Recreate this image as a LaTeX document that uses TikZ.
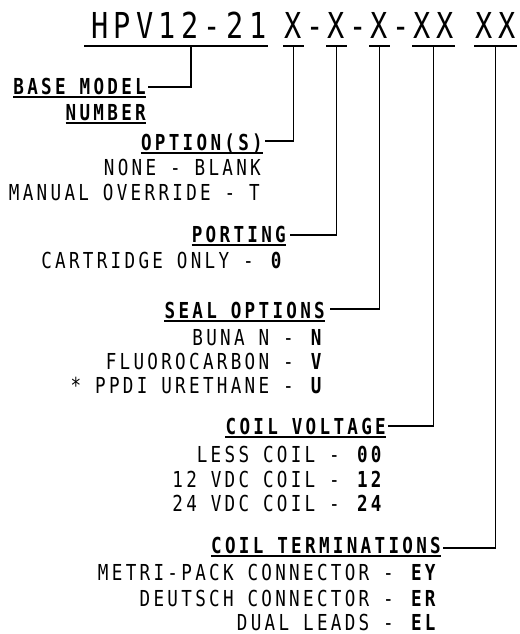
\documentclass[tikz,border=0pt]{standalone}
\usepackage{fontspec}
\newfontfamily\cadfont[FakeStretch=0.8,LetterSpace=15]{DejaVu Sans Mono}
\newfontfamily\ttlfont[FakeStretch=0.8,LetterSpace=15]{DejaVu Sans Mono}
\begin{document}
\begin{tikzpicture}[x=1pt,y=-1pt,
  item/.style={font=\cadfont\fontsize{22}{25}\selectfont, inner sep=0pt, anchor=base east},
  hdr/.style={font=\cadfont\bfseries\fontsize{22}{25}\selectfont, inner sep=0pt, anchor=base east},
  ttl/.style={font=\ttlfont\fontsize{35.7}{40}\selectfont, inner sep=0pt, anchor=base west},
  ln/.style={line width=1.1pt, black}]
\useasboundingbox (0,0) rectangle (519,634);
% title segments (advance 21.5pt per character)
\node[ttl] (base) at (91,38) {HPV12-21};
\node[ttl] (xa) at (284.5,38) {X};
\node[ttl] (da) at (306,38) {-};
\node[ttl] (xb) at (327.5,38) {X};
\node[ttl] (db) at (349,38) {-};
\node[ttl] (xc) at (370.5,38) {X};
\node[ttl] (dc) at (392,38) {-};
\node[ttl] (xd) at (413.5,38) {XX};
\node[ttl] (xe) at (475.5,38) {XX};
% underlines
\draw[ln] ([xshift=-7pt,yshift=-8pt]base.base west) -- ([xshift=1.5pt,yshift=-8pt]base.base east);
\foreach \n in {xa,xb,xc,xd,xe}
  \draw[ln] ([xshift=-1.5pt,yshift=-8pt]\n.base west) -- ([xshift=1.5pt,yshift=-8pt]\n.base east);
% headers
\node[hdr] (bm) at (146,94) {BASE MODEL};
\node[hdr] (num) at (146,120) {NUMBER};
\node[hdr] (opt) at (263,150) {OPTION(S)};
\node[hdr] (port) at (286,242) {PORTING};
\node[hdr] (seal) at (325,318) {SEAL OPTIONS};
\node[hdr] (cv) at (386,434) {COIL VOLTAGE};
\node[hdr] (ct) at (441,553) {COIL TERMINATIONS};
\foreach \n in {bm,num,opt,port,seal,cv,ct}
  \draw[line width=1.2pt] ([yshift=-3pt]\n.base west) -- ([yshift=-3pt]\n.base east);
% items
\node[item] (o1) at (261,175) {NONE - BLANK};
\node[item] (o2) at (260,200) {MANUAL OVERRIDE - T};
\node[item] (p1) at (285,268) {CARTRIDGE ONLY - \textbf{0}};
\node[item] (s1) at (325,345) {BUNA N - \textbf{N}};
\node[item] (s2) at (325,369) {FLUOROCARBON - \textbf{V}};
\node[item] (s3) at (325,393) {* PPDI URETHANE - \textbf{U}};
\node[item] (v1) at (385,462) {LESS COIL - \textbf{00}};
\node[item] (v2) at (385,487) {12 VDC COIL - \textbf{12}};
\node[item] (v3) at (385,511) {24 VDC COIL - \textbf{24}};
\node[item] (t1) at (439,580) {METRI-PACK CONNECTOR - \textbf{EY}};
\node[item] (t2) at (439,606) {DEUTSCH CONNECTOR - \textbf{ER}};
\node[item] (t3) at (439,630) {DUAL LEADS - \textbf{EL}};
% connectors
\draw[ln] ([xshift=2pt,yshift=7pt]bm.base east) -| ([xshift=100pt,yshift=-8pt]base.base west);
\draw[ln] ([xshift=2pt,yshift=9pt]opt.base east) -| ([yshift=-8pt]xa.base);
\draw[ln] ([xshift=4pt,yshift=7pt]port.base east) -| ([yshift=-8pt]xb.base);
\draw[ln] ([xshift=5pt,yshift=9pt]seal.base east) -| ([yshift=-8pt]xc.base);
\draw[ln] ([xshift=2pt,yshift=8pt]cv.base east) -| ([yshift=-8pt]xd.base);
\draw[ln] ([xshift=2pt,yshift=5pt]ct.base east) -| ([yshift=-8pt]xe.base);
\end{tikzpicture}
\end{document}
